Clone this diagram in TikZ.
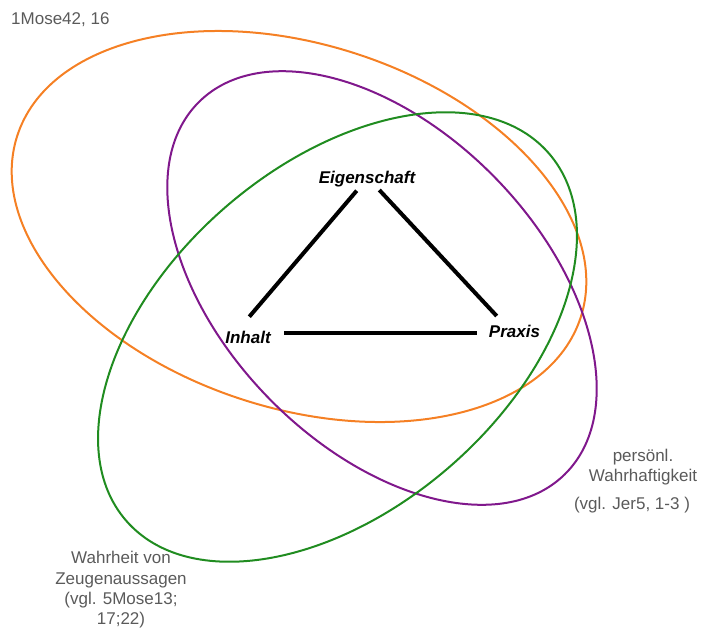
\documentclass[tikz,border=0pt]{standalone}
\usepackage{fontspec}
\setmainfont{Liberation Sans}
\usetikzlibrary{calc}
\definecolor{orangeL}{RGB}{245,128,36}
\definecolor{purpleL}{RGB}{128,24,140}
\definecolor{greenL}{RGB}{32,140,32}
\definecolor{grayT}{RGB}{90,90,90}
\tikzset{
  ring/.style={line width=2pt},
  corner/.style={font=\fontsize{17}{17}\selectfont\bfseries\itshape, text=black, inner sep=0pt, anchor=base},
  note/.style={font=\fontsize{17}{20.5}\selectfont, text=grayT, inner sep=0pt, align=center},
  edge/.style={line width=4pt, black}
}
\begin{document}
\begin{tikzpicture}[x=1pt,y=-1pt]
\useasboundingbox (0,0) rectangle (703,630);
% ellipses
\draw[ring, orangeL, rotate around={-17.8:(299,226.5)}] (299,226.5) ellipse [x radius=296pt, y radius=182pt];
\draw[ring, purpleL, rotate around={-45.6:(382,288)}] (382,288) ellipse [x radius=261pt, y radius=158pt];
\draw[ring, greenL, rotate around={41:(337.5,337)}] (337.5,337) ellipse [x radius=280pt, y radius=171.5pt];
% triangle labels
\node[corner] (eig) at (367,183) {Eigenschaft};
\node[corner] (inh) at (248,343) {Inhalt};
\node[corner] (pra) at (514.5,337) {Praxis};
% triangle edges
\draw[edge] ($(eig.base)+(-10.3,7.7)$) -- ($(inh.base)+(1.3,-26.3)$);
\draw[edge] ($(eig.base)+(12.3,7)$) -- ($(pra.base)+(-17.8,-21)$);
\draw[edge] ($(inh.base)+(36,-10.3)$) -- ($(pra.base)+(-37.2,-4.3)$);
% notes
\node[note, anchor=base west] (mose) at (11,24) {1Mose42, 16};
\node[note, anchor=base, font=\fontsize{17}{19.5}\selectfont] (pers) at (643,481) {persönl.\\Wahrhaftigkeit};
\node[note, anchor=base] (jer) at (632,509) {(vgl. Jer5, 1-3 )};
\node[note, anchor=base, font=\fontsize{17}{20.2}\selectfont] (zeug) at (121,624.5) {Wahrheit von\\Zeugenaussagen\\(vgl. 5Mose13;\\17;22)};
\end{tikzpicture}
\end{document}
